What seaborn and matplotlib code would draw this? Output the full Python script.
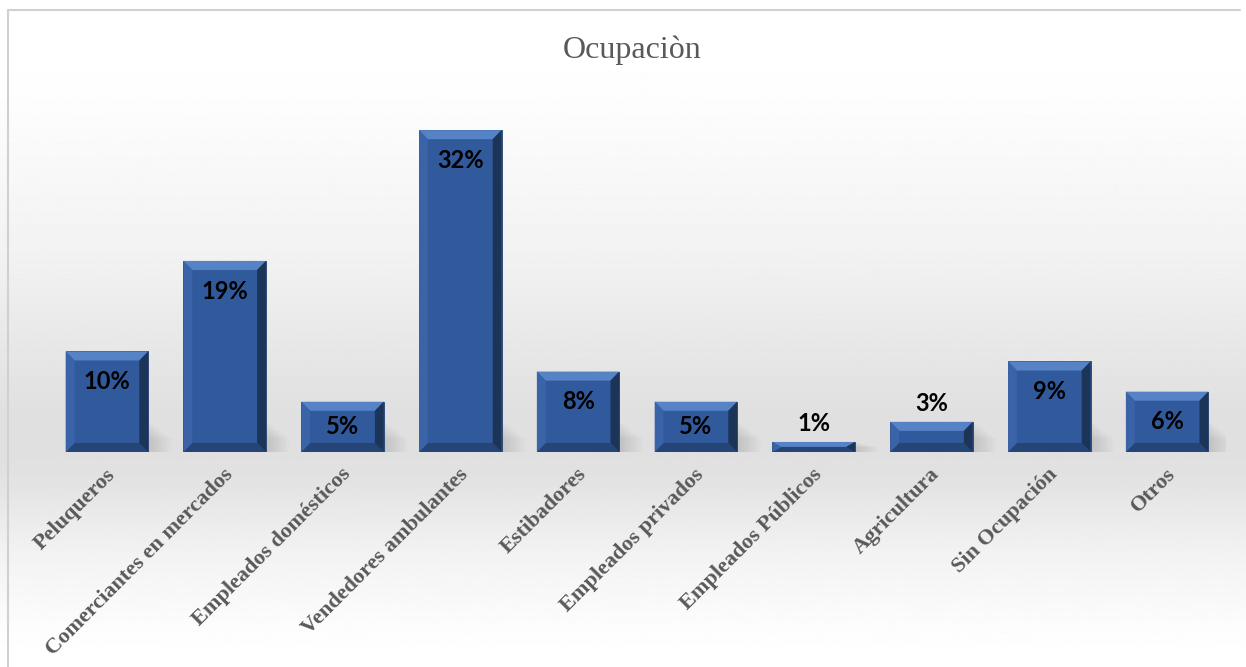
import numpy as np
import pandas as pd
import matplotlib.pyplot as plt
from matplotlib.patches import Polygon
from matplotlib.lines import Line2D
import matplotlib.transforms as mtransforms
import seaborn as sns

# data
categories = ["Peluqueros", "Comerciantes en mercados", "Empleados domésticos",
              "Vendedores ambulantes", "Estibadores", "Empleados privados",
              "Empleados Públicos", "Agricultura", "Sin Ocupación", "Otros"]
values = [10, 19, 5, 32, 8, 5, 1, 3, 9, 6]
title = "Ocupaciòn"

df = pd.DataFrame({"ocupacion": categories, "pct": values})

sns.set_style("white")
plt.rcParams["font.family"] = ["Liberation Serif", "DejaVu Serif"]

fig = plt.figure(figsize=(12.46, 6.67), dpi=100)

# background gradient (white -> gray at baseline -> white)
bg = fig.add_axes([0, 0, 1, 1], zorder=-10)
ys = np.linspace(0, 667, 400)
stops_y = [0, 90, 250, 420, 470, 560, 640, 667]
stops_v = [1.0, 0.995, 0.95, 0.875, 0.88, 0.955, 0.995, 1.0]
grad = np.interp(ys, stops_y, stops_v)[:, None]
bg.imshow(grad, aspect="auto", cmap="gray", vmin=0, vmax=1,
          extent=[0, 1, 0, 1], origin="upper")
bg.set_axis_off()
# light frame on top/left
fig.add_artist(Line2D([8 / 1246, 8 / 1246], [0, 1 - 10 / 667],
                      transform=fig.transFigure, color="#d0d0d0", lw=1.5))
fig.add_artist(Line2D([8 / 1246, 1240 / 1246], [1 - 10 / 667, 1 - 10 / 667],
                      transform=fig.transFigure, color="#d0d0d0", lw=1.5))

ax = fig.add_axes([48 / 1246, 1 - 452 / 667, 1178 / 1246, 352 / 667])
ax.patch.set_alpha(0)
sns.barplot(data=df, x="ocupacion", y="pct", color="#315a9c", width=0.70,
            saturation=1, ax=ax, edgecolor="#23416f", linewidth=0.6)
ax.set_ylim(0, 35)
ax.set_xlim(-0.5, len(categories) - 0.5)

# bevel + soft shadow on each bar
dx, dy = 0.075, 0.9
for p in ax.patches:
    x, y0, w, h = p.get_x(), p.get_y(), p.get_width(), p.get_height()
    by = min(dy, h / 2)
    sh = min(h, 3.0)
    for k in range(10):
        s = plt.Rectangle((x + w, y0), 0.02 + 0.02 * k, sh * (1 - 0.06 * k),
                          color="black", alpha=0.012, lw=0, zorder=1)
        ax.add_patch(s)
    top = Polygon([(x, y0 + h), (x + w, y0 + h), (x + w - dx, y0 + h - by),
                   (x + dx, y0 + h - by)], closed=True, color="#5682c6", lw=0, zorder=3)
    bot = Polygon([(x, y0), (x + w, y0), (x + w - dx, y0 + by), (x + dx, y0 + by)],
                  closed=True, color="#254576", lw=0, zorder=3)
    lft = Polygon([(x, y0), (x + dx, y0 + by), (x + dx, y0 + h - by), (x, y0 + h)],
                  closed=True, color="#3a63a8", lw=0, zorder=3)
    rgt = Polygon([(x + w, y0), (x + w - dx, y0 + by), (x + w - dx, y0 + h - by),
                   (x + w, y0 + h)], closed=True, color="#1d3459", lw=0, zorder=3)
    for poly in (top, bot, lft, rgt):
        ax.add_patch(poly)
    p.set_zorder(2)

# value labels
for i, v in enumerate(values):
    if v >= 4:
        ypos = max(v - 3.0, v / 2)
    else:
        ypos = v + 1.8
    ax.text(i, ypos, f"{v}%", ha="center", va="center", fontsize=17,
            fontweight="bold", family=["Lato", "DejaVu Sans"], color="black", zorder=5)

ax.set_xlabel("")
ax.set_ylabel("")
ax.set_yticks([])
ax.tick_params(axis="x", length=0, pad=9)
offset = mtransforms.ScaledTranslation(-2 / 100, 0, fig.dpi_scale_trans)
for lab in ax.get_xticklabels():
    lab.set_rotation(45)
    lab.set_ha("right")
    lab.set_va("top")
    lab.set_rotation_mode("anchor")
    lab.set_fontsize(16)
    lab.set_fontweight("bold")
    lab.set_color("#595959")
    lab.set_transform(lab.get_transform() + offset)
sns.despine(ax=ax, left=True, bottom=True)

fig.text(632 / 1246, 1 - 50 / 667, title, ha="center", va="center",
         fontsize=23, color="#595959")

fig.savefig("out.png", dpi=100)
